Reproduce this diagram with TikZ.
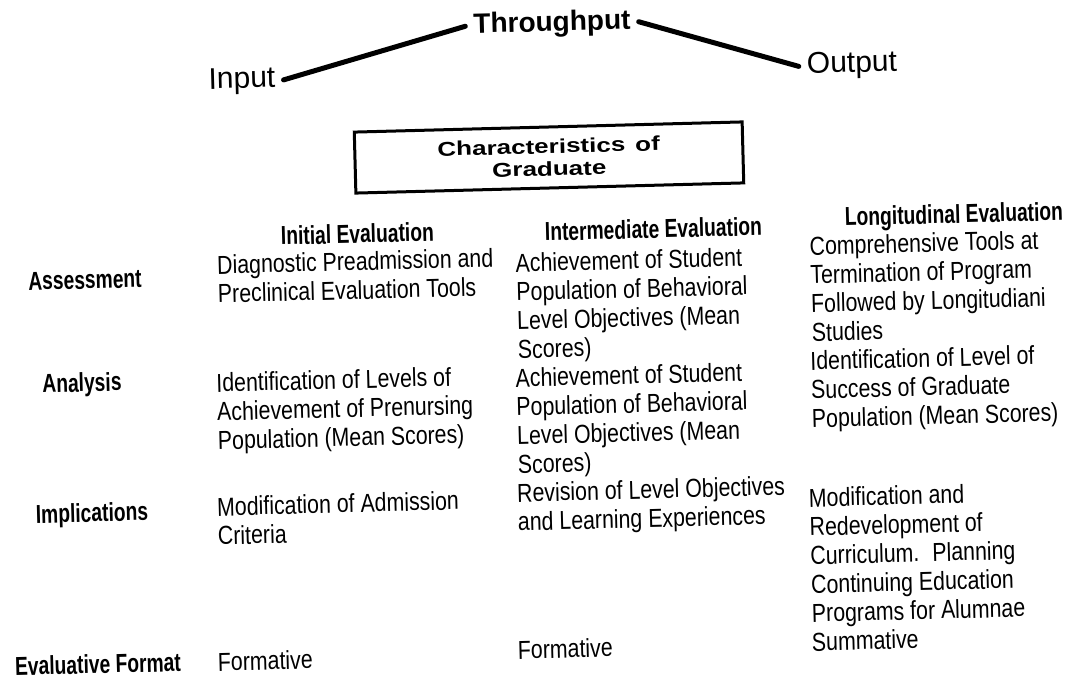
\documentclass[tikz,border=0pt]{standalone}
\usepackage{fontspec}
\setmainfont{Liberation Sans}[FakeStretch=0.82]
\newfontfamily\labelfont{Liberation Sans}[FakeStretch=0.74]
\newfontfamily\plainfont{Liberation Sans}
\newfontfamily\boxfont{Liberation Sans}[FakeStretch=1.3]

\begin{document}
\begin{tikzpicture}[x=1pt, y=-1pt,
  every node/.style={rotate=1.5, inner sep=0pt},
  cell/.style={anchor=base west, align=left, font=\fontsize{26}{28.8}\selectfont},
  rowlabel/.style={font=\labelfont\bfseries\fontsize{26}{28}\selectfont},
  colhead/.style={anchor=base west, font=\labelfont\bfseries\fontsize{26}{28}\selectfont},
  term/.style={font=\plainfont\fontsize{30}{34}\selectfont, inner sep=8pt},
  link/.style={line width=5pt, line cap=round}]

\useasboundingbox (0,0) rectangle (1078,679);

% Input -- Throughput -- Output
\node[term] (inp) at (242,81) {Input};
\node[term, font=\plainfont\bfseries\fontsize{28}{32}\selectfont] (thr) at (552,24) {Throughput};
\node[term] (out) at (852,65) {Output};
\draw[link] (inp.east) -- (thr.west);
\draw[link] (thr.east) -- (out.west);

\node[draw, line width=3pt, minimum width=388pt, minimum height=61pt, align=center,
      font=\boxfont\bfseries\fontsize{20}{22.5}\selectfont] (grad) at (549,157.5)
      {Characteristics\enspace of\\Graduate};

% column heads
\node[colhead] (hinit) at (281,245) {Initial Evaluation};
\node[colhead] (hmid) at (545,241) {Intermediate Evaluation};
\node[colhead] (hlong) at (845,226) {Longitudinal Evaluation};

% row labels
\node[rowlabel] (assess) at (85,280) {Assessment};
\node[rowlabel] (analys) at (82,385) {Analysis};
\node[rowlabel] (implic) at (92,515) {Implications};
\node[rowlabel] (evform) at (98,664) {Evaluative Format};

% Assessment (base = last line)
\node[cell] (ass1) at (218,302.8) {Diagnostic Preadmission and\\Preclinical Evaluation Tools};
\node[cell] (ass2) at (518,358.4) {Achievement of Student\\Population of Behavioral\\Level Objectives (Mean\\Scores)};
\node[cell] (ass3) at (812,341.4) {Comprehensive Tools at\\Termination of Program\\Followed by Longitudiani\\Studies};

% Analysis
\node[cell] (ana1) at (218,449.6) {Identification of Levels of\\Achievement of Prenursing\\Population (Mean Scores)};
\node[cell] (ana2) at (518,473.4) {Achievement of Student\\Population of Behavioral\\Level Objectives (Mean\\Scores)};
\node[cell] (ana3) at (812,427.6) {Identification of Level of\\Success of Graduate\\Population (Mean Scores)};

% Implications
\node[cell] (imp1) at (218,544.8) {Modification of Admission\\Criteria};
\node[cell] (imp2) at (518,530.8) {Revision of Level Objectives\\and Learning Experiences};
\node[cell] (imp3) at (812,622.2) {Modification and\\Redevelopment of\\Curriculum.\enspace Planning\\Continuing Education\\Programs for Alumnae};

% Evaluative format
\node[cell] (fmt1) at (218,671) {Formative};
\node[cell] (fmt2) at (518,659) {Formative};
\node[cell] (fmt3) at (812,651) {Summative};

\end{tikzpicture}
\end{document}
